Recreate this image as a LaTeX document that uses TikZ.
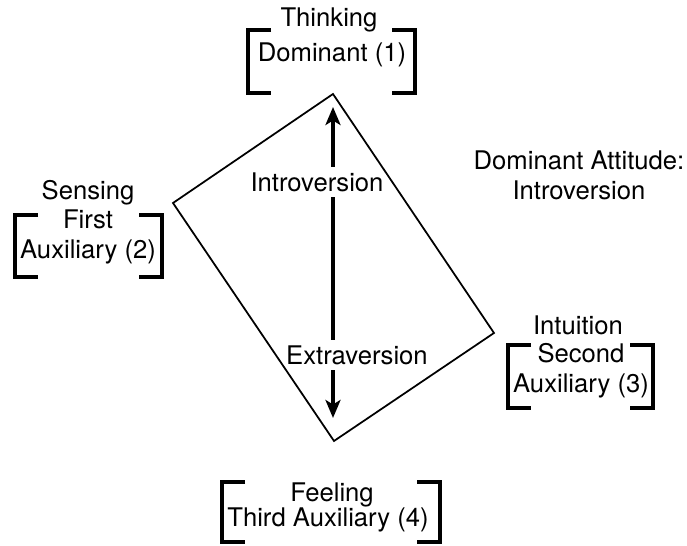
\documentclass[tikz,border=0pt]{standalone}
\usepackage{fontspec}
\setmainfont{TeX Gyre Heros}
\usepackage{tikz}
\usetikzlibrary{arrows.meta, positioning, calc}

\begin{document}
\begin{tikzpicture}[x=0.02cm, y=-0.02cm,
    txt/.style={font=\fontsize{14.6}{17}\selectfont, inner sep=1pt, align=center},
    bracket/.style={line width=1.9pt},
    frame/.style={line width=1pt, line join=miter},
    axis/.style={line width=1.9pt, -{Stealth[length=3.6mm, width=3mm, inset=0.9mm]}}]
\useasboundingbox (0,0) rectangle (687,546);
% Rotated rectangle
\draw[frame] (333,94) -- (494,333) -- (334,441) -- (173,203) -- cycle;
% Function labels
\node[txt] (think) at (329,20) {Thinking};
\node[txt] (thinkrole) at (332,55) {Dominant (1)};
\node[txt] (sens) at (88,193) {Sensing};
\node[txt] (sensrole) at (88,237) {First\\Auxiliary (2)};
\node[txt] (intu) at (578,325) {Intuition};
\node[txt] (inturole) at (581,371) {Second\\Auxiliary (3)};
\node[txt] (feel) at (332,495) {Feeling};
\node[txt] (feelrole) at (328,520) {Third Auxiliary (4)};
\node[txt] (attitude) at (579,175) {Dominant Attitude:\\Introversion};
% Brackets
\foreach \l/\r/\t/\b in {248/415/30/93, 15/162/215/277, 508/653/345/408, 222/440/482/542} {
    \draw[bracket] ({\l+23},\t) -| (\l,\b) -- ++(23,0);
    \draw[bracket] ({\r-23},\t) -| (\r,\b) -- ++(-23,0);
}
% Attitude axis
\coordinate (upper) at (333,107);
\coordinate (lower) at (333,418);
\node[txt, inner sep=3pt] (intro) at (317,182) {Introversion};
\node[txt, inner sep=3pt] (extra) at (357,355) {Extraversion};
\draw[axis] (upper |- intro.north) -- (upper);
\draw[line width=1.9pt] (upper |- intro.south) -- (upper |- extra.north);
\draw[axis] (upper |- extra.south) -- (lower);
\end{tikzpicture}
\end{document}
